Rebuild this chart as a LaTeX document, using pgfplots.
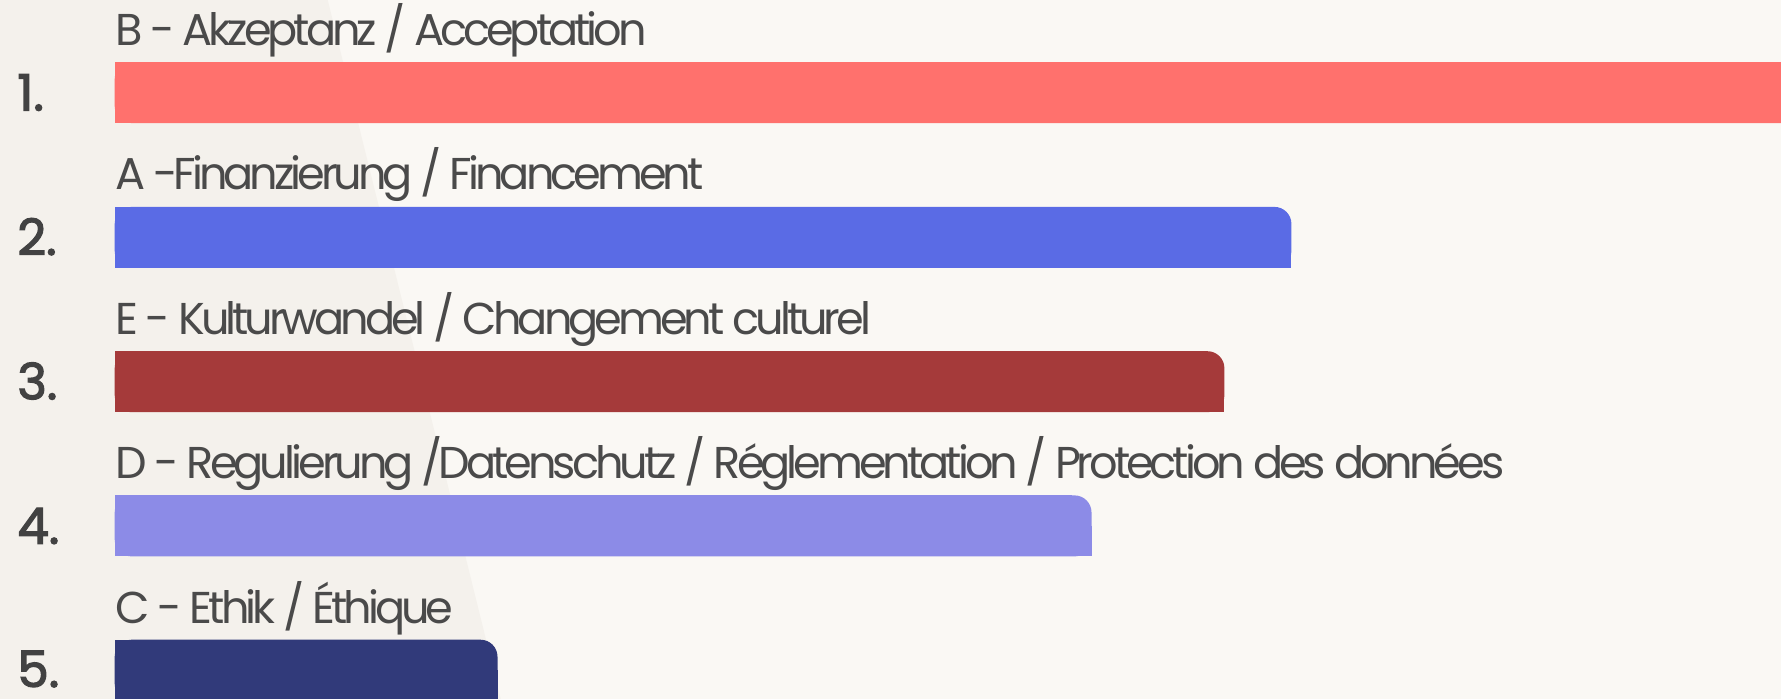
\documentclass[border=0pt]{standalone}
\usepackage{pgfplots}
\pgfplotsset{compat=1.18}
\usepackage{fontspec}
\setmainfont{Poppins}
\newfontfamily\labfont[LetterSpace=-9]{Poppins}
\newfontfamily\numfont[FakeBold=2.5]{Poppins}
\definecolor{bgR}{HTML}{FAF8F4}
\definecolor{bgL}{HTML}{F4F1EC}
\definecolor{cA}{HTML}{FF716D}
\definecolor{cB}{HTML}{5A6BE5}
\definecolor{cC}{HTML}{A53A3A}
\definecolor{cD}{HTML}{8C8BE7}
\definecolor{cE}{HTML}{313A7A}
\definecolor{txt}{HTML}{4A4A4A}
\definecolor{num}{HTML}{424242}
% one bar: #1 centre y (px), #2 length (px), #3 colour
\newcommand{\rbar}[3]{%
  \addplot[xbar, bar width=30.5pt, bar shift=0pt, fill=#3, draw=none, rounded corners=8.5pt] coordinates {(#2,#1)};
  \addplot[xbar, bar width=30.5pt, bar shift=0pt, fill=#3, draw=none] coordinates {(#2-20,#1)};
  \addplot[xbar, bar width=15.25pt, bar shift=0pt, fill=#3, draw=none] coordinates {(#2,#1+15.25)};
}
\begin{document}
\begin{tikzpicture}
\begin{axis}[
  scale only axis, width=890.5pt, height=349.5pt,
  xmin=-114.7, xmax=1666.3, ymin=0, ymax=699, y dir=reverse,
  hide axis, clip=true,
]
\fill[bgR] (axis cs:-114.7,0) rectangle (axis cs:1666.3,699);
\fill[bgL] (axis cs:-114.7,0) -- (axis cs:213,0) -- (axis cs:386,699) -- (axis cs:-114.7,699) -- cycle;
\rbar{92.6}{1700}{cA}
\rbar{237.4}{1176.7}{cB}
\rbar{381.7}{1109.7}{cC}
\rbar{525.9}{976.8}{cD}
\rbar{670.2}{382.8}{cE}
\begin{scope}[every node/.style={text=txt, inner sep=0pt, font=\labfont\fontsize{22.3pt}{26pt}\selectfont}]
\node[anchor=base west] at (axis cs:0,45.4) {B - Akzeptanz / Acceptation};
\node[anchor=base west] at (axis cs:0,189.8) {A -Finanzierung / Financement};
\node[anchor=base west] at (axis cs:0,334.2) {E - Kulturwandel / Changement culturel};
\node[anchor=base west] at (axis cs:0,478.6) {D - Regulierung /Datenschutz / Réglementation / Protection des données};
\node[anchor=base west] at (axis cs:0,623.0) {C - Ethik / Éthique};
\end{scope}
\begin{scope}[every node/.style={text=num, inner sep=0pt, anchor=base west, font=\numfont\fontsize{25pt}{28pt}\selectfont}]
\node at (axis cs:-97.7,110.5) {1.};
\node at (axis cs:-97.7,254.9) {2.};
\node at (axis cs:-97.7,399.3) {3.};
\node at (axis cs:-97.7,543.7) {4.};
\node at (axis cs:-97.7,687.0) {5.};
\end{scope}
\end{axis}
\end{tikzpicture}
\end{document}
